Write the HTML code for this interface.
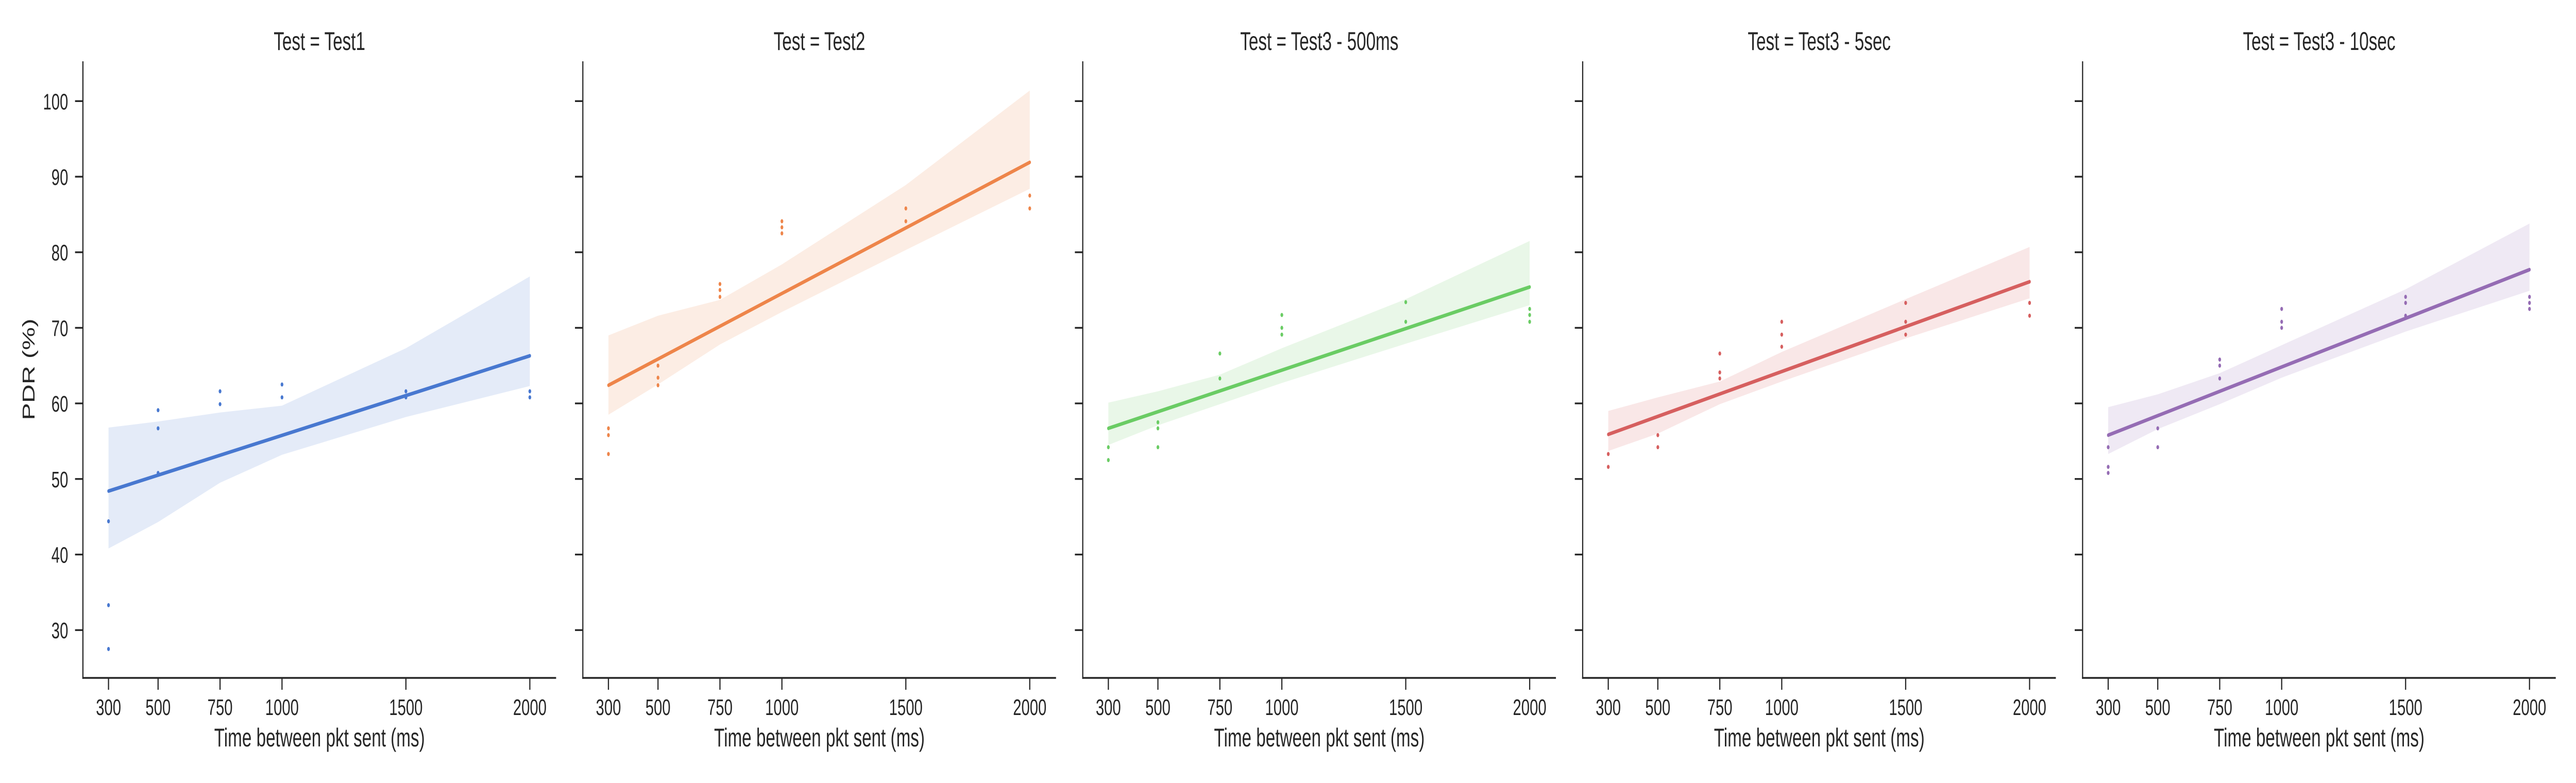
<!DOCTYPE html>
<html><head><meta charset="utf-8"><style>
html,body{margin:0;padding:0;background:#fff;width:7518px;height:1520px;overflow:hidden;}
svg{display:block;width:100vw;height:100vh;font-family:"Liberation Sans",Arial,sans-serif;}
</style></head><body>
<svg id="chart" viewBox="0 0 7518 1520" preserveAspectRatio="none" xmlns="http://www.w3.org/2000/svg"></svg>
<script>
const panelTitles = ["Test = Test1","Test = Test2","Test = Test3 - 500ms","Test = Test3 - 5sec","Test = Test3 - 10sec"];
const colors = ["#4878d0","#ee854a","#6acc64","#d65f5f","#956cb4"];
const xTicks = [300,500,750,1000,1500,2000];
const yTicks = [30,40,50,60,70,80,90,100];
const pointX = [
  [300,300,300,500,500,500,750,750,1000,1000,1500,1500,2000,2000],
  [300,300,300,500,500,500,750,750,750,1000,1000,1000,1500,1500,2000,2000],
  [300,300,500,500,500,750,750,1000,1000,1000,1500,1500,2000,2000,2000],
  [300,300,500,500,750,750,750,1000,1000,1000,1500,1500,1500,2000,2000],
  [300,300,300,500,500,750,750,750,1000,1000,1000,1500,1500,1500,2000,2000,2000]
];
const pointY = [
  [44.4,33.3,27.5,59.1,56.7,50.8,61.6,59.9,62.5,60.8,61.6,60.8,61.6,60.8],
  [56.7,55.8,53.3,65.0,63.4,62.4,75.8,75.0,74.1,84.1,83.3,82.5,85.8,84.1,87.5,85.8],
  [54.2,52.5,57.5,56.7,54.2,66.6,63.3,71.7,70.0,69.1,73.4,70.8,72.5,71.7,70.8],
  [53.3,51.6,55.8,54.2,66.6,64.1,63.3,70.8,69.1,67.5,73.3,70.8,69.1,73.3,71.6],
  [54.2,51.6,50.8,56.7,54.2,65.8,65.0,63.3,72.5,70.8,70.0,74.1,73.3,71.6,74.1,73.3,72.5]
];
const fitStart = [48.4,62.4,56.7,55.9,55.8];
const fitEnd = [66.3,91.9,75.4,76.1,77.7];
const ciX = [300,500,750,1000,1500,2000];
const ciUpper = [
  [56.8,57.6,58.8,59.7,67.3,76.8],
  [69.0,71.6,73.7,78.4,88.9,101.4],
  [60.1,61.6,63.8,67.3,73.8,81.5],
  [59.0,60.8,62.9,66.8,73.8,80.7],
  [59.5,61.2,64.0,67.7,75.1,83.8]
];
const ciLower = [
  [40.8,44.3,49.5,53.2,58.2,62.3],
  [58.5,62.5,67.8,72.1,80.3,88.4],
  [54.5,57.1,59.9,62.7,67.9,73.0],
  [53.7,56.0,59.9,62.9,68.6,73.9],
  [53.3,56.6,59.9,63.4,69.5,74.9]
];

const NS="http://www.w3.org/2000/svg";
const svg=document.getElementById('chart');
function mk(tag,attrs,parent){const e=document.createElementNS(NS,tag);for(const k in attrs)e.setAttribute(k,attrs[k]);(parent||svg).appendChild(e);return e;}
const AX_L=242, AX_W=1381, PANEL_STEP=1459, AX_TOP=119, AX_BOT=1316;
const X0=300, XPX0=316.7, XSCALE=0.7233;
const Y100=196.3, YSCALE=14.67;
function xs(p,v){return AX_L+p*PANEL_STEP+(XPX0-AX_L)+(v-X0)*XSCALE;}
function ys(v){return Y100+(100-v)*YSCALE;}
const ink="#262626";

for(let p=0;p<5;p++){
  const g=mk('g',{});
  
  
  const left=AX_L+p*PANEL_STEP;
  let d='';
  for(let i=0;i<ciX.length;i++) d+=(i?'L':'M')+xs(p,ciX[i]).toFixed(1)+','+ys(ciUpper[p][i]).toFixed(1);
  for(let i=ciX.length-1;i>=0;i--) d+='L'+xs(p,ciX[i]).toFixed(1)+','+ys(ciLower[p][i]).toFixed(1);
  const band=mk('path',{d:d+'Z',fill:colors[p],'fill-opacity':0.15,stroke:'none'},g);
  
  
  for(let i=0;i<pointX[p].length;i++){
    const c=mk('circle',{cx:xs(p,pointX[p][i]),cy:ys(pointY[p][i]),r:4,fill:colors[p]},g);
    
    
  }
  const ln=mk('line',{x1:xs(p,300),y1:ys(fitStart[p]),x2:xs(p,2000),y2:ys(fitEnd[p]),stroke:colors[p],'stroke-width':7,'stroke-linecap':'round'},g);
  
  
  const ya=mk('line',{x1:left,y1:AX_TOP,x2:left,y2:AX_BOT+1.7,stroke:ink,'stroke-width':3.4},g);
  
  
  const xa=mk('line',{x1:left-1.7,y1:AX_BOT,x2:left+AX_W,y2:AX_BOT,stroke:ink,'stroke-width':3.4},g);
  
  
  for(const t of yTicks){
    const tk=mk('line',{x1:left-23,y1:ys(t),x2:left,y2:ys(t),stroke:ink,'stroke-width':3.4},g);
    
    
    if(p===0){
      const tl=mk('text',{x:left-43,y:ys(t)+16,'text-anchor':'end','font-size':44,fill:ink},g);
      tl.textContent=t;
      
      
    }
  }
  for(const t of xTicks){
    const tk=mk('line',{x1:xs(p,t),y1:AX_BOT,x2:xs(p,t),y2:AX_BOT+23,stroke:ink,'stroke-width':3.4},g);
    
    
    const tl=mk('text',{x:xs(p,t),y:1388,'text-anchor':'middle','font-size':44,fill:ink},g);
    tl.textContent=t;
    
    
  }
  const xl=mk('text',{x:left+AX_W/2,y:1449,'text-anchor':'middle','font-size':50,fill:ink},g);
  xl.textContent='Time between pkt sent (ms)';
  
  
  const tt=mk('text',{x:left+AX_W/2,y:97,'text-anchor':'middle','font-size':50,fill:ink},g);
  tt.textContent=panelTitles[p];
  
  
}
const yl=mk('text',{x:0,y:0,'text-anchor':'middle','font-size':50,fill:ink,transform:'translate(101,717) rotate(-90)'});
yl.textContent='PDR (%)';


</script>
</body></html>
